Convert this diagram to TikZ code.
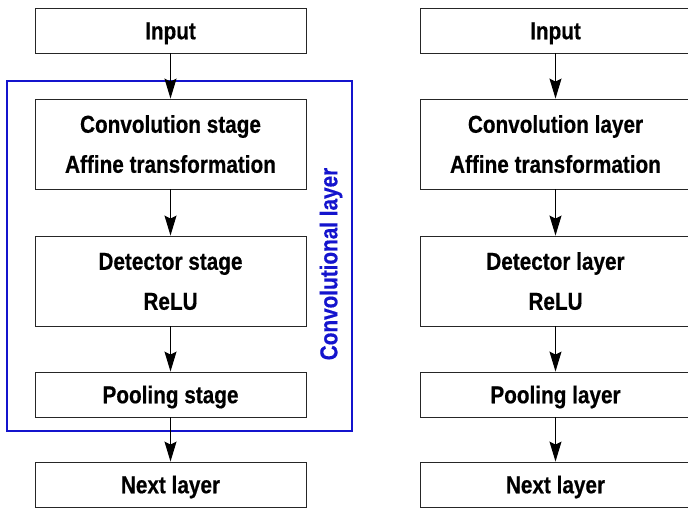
\documentclass[tikz,border=0pt]{standalone}
\usepackage{fontspec}
\setmainfont{Liberation Sans}[FakeStretch=0.85, BoldFeatures={FakeBold=0.5}]
\usetikzlibrary{arrows.meta}
\definecolor{layerblue}{RGB}{20,20,205}
\tikzset{
  stagebox/.style={draw=black!85, line width=0.9pt, minimum width=271pt,
    inner sep=0pt, align=center,
    font=\fontsize{24.4}{40}\selectfont\bfseries},
  oneline/.style={stagebox, minimum height=45pt, text height=17.5pt, text depth=0pt},
  twoline/.style={stagebox, minimum height=90pt, text height=57.5pt, text depth=0pt},
  flow/.style={draw=black, line width=1.1pt,
    -{Stealth[length=20pt,width=12pt,inset=3pt]}},
}
\begin{document}
\begin{tikzpicture}[x=1pt,y=-1pt]
  \useasboundingbox (0,0) rectangle (688,507);
  \clip (0,0) rectangle (688,507);

  % left column: stages grouped into one convolutional layer
  \node[oneline] (inL) at (170.5,30.5) {Input};
  \node[twoline] (convL) at (170.5,144) {Convolution stage\\Affine transformation};
  \node[twoline] (detL) at (170.5,281) {Detector stage\\ReLU};
  \node[oneline] (poolL) at (170.5,394.5) {Pooling stage};
  \node[oneline] (nextL) at (170.5,484.5) {Next layer};

  \draw[layerblue, line width=1.5pt] (7,81) rectangle (352,431);
  \node[rotate=90, text=layerblue, font=\fontsize{24.4}{30}\selectfont\bfseries]
    (grp) at (331,264) {Convolutional layer};

  \draw[flow] (inL) -- (convL);
  \draw[flow] (convL) -- (detL);
  \draw[flow] (detL) -- (poolL);
  \draw[flow] (poolL) -- (nextL);

  % right column: each step as its own layer
  \node[oneline] (inR) at (555.5,30.5) {Input};
  \node[twoline] (convR) at (555.5,144) {Convolution layer\\Affine transformation};
  \node[twoline] (detR) at (555.5,281) {Detector layer\\ReLU};
  \node[oneline] (poolR) at (555.5,394.5) {Pooling layer};
  \node[oneline] (nextR) at (555.5,484.5) {Next layer};

  \draw[flow] (inR) -- (convR);
  \draw[flow] (convR) -- (detR);
  \draw[flow] (detR) -- (poolR);
  \draw[flow] (poolR) -- (nextR);
\end{tikzpicture}
\end{document}
